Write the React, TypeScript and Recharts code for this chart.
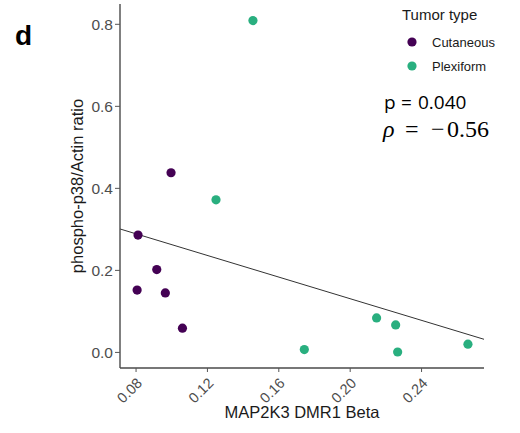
import React from "react";
import {
  ScatterChart,
  Scatter,
  XAxis,
  YAxis,
  ReferenceLine,
} from "recharts";

// ---- data ----
const cutaneousX = [0.0996, 0.0811, 0.0916, 0.0806, 0.0964, 0.106];
const cutaneousY = [0.438, 0.286, 0.202, 0.152, 0.145, 0.059];
const plexiformX = [0.1455, 0.1248, 0.1743, 0.2148, 0.2255, 0.2266, 0.266];
const plexiformY = [0.809, 0.372, 0.007, 0.084, 0.067, 0.001, 0.02];
const fitX = [0.071, 0.275];
const fitY = [0.301, 0.032];
const xTicks = [0.08, 0.12, 0.16, 0.2, 0.24];
const yTicks = [0, 0.2, 0.4, 0.6, 0.8];
const seriesNames = ["Cutaneous", "Plexiform"];
const seriesColors = ["#440154", "#29AF7F"];
const pValueText = "p = 0.040";
const rhoValue = "0.56";

const cutaneous = cutaneousX.map((x, i) => ({ x, y: cutaneousY[i] }));
const plexiform = plexiformX.map((x, i) => ({ x, y: plexiformY[i] }));

const SANS = "'Liberation Sans', Arial, sans-serif";

const dot = (color: string) => (p: any) =>
  <circle cx={p.cx} cy={p.cy} r={4.6} fill={color} />;

const XTick = (props: any) => {
  const { x, y, payload } = props;
  return (
    <g transform={`translate(${x},${y})`}>
      <text
        x={0}
        y={0}
        transform="translate(7,10) rotate(-45)"
        textAnchor="end"
        fontSize={14.5}
        fontFamily={SANS}
        fill="#4D4D4D"
      >
        {Number(payload.value).toFixed(2)}
      </text>
    </g>
  );
};

export default function App() {
  return (
    <div style={{ position: "absolute", left: 0, top: 0, width: 520, height: 433, background: "#fff" }}>
      <ScatterChart
        width={520}
        height={433}
        margin={{ top: 4, right: 36, bottom: 0, left: 0 }}
      >
        <XAxis
          type="number"
          dataKey="x"
          domain={[0.071, 0.275]}
          ticks={xTicks}
          allowDataOverflow
          height={65}
          tick={<XTick />}
          tickSize={4}
          tickMargin={2}
          stroke="#555"
          tickLine={{ stroke: "#555" }}
          axisLine={{ stroke: "#4a4a4a", strokeWidth: 1.4 }}
        />
        <YAxis
          type="number"
          dataKey="y"
          domain={[-0.038, 0.8495]}
          ticks={yTicks}
          allowDataOverflow
          width={120}
          tickSize={5}
          tickMargin={2}
          tickFormatter={(v: number) => v.toFixed(1)}
          tick={{ fontSize: 15.5, fontFamily: SANS, fill: "#4D4D4D" }}
          stroke="#555"
          axisLine={{ stroke: "#4a4a4a", strokeWidth: 1.4 }}
        />
        <Scatter
          name={seriesNames[0]}
          data={cutaneous}
          fill={seriesColors[0]}
          shape={dot(seriesColors[0])}
          isAnimationActive={false}
        />
        <Scatter
          name={seriesNames[1]}
          data={plexiform}
          fill={seriesColors[1]}
          shape={dot(seriesColors[1])}
          isAnimationActive={false}
        />
        <ReferenceLine
          segment={[
            { x: fitX[0], y: fitY[0] },
            { x: fitX[1], y: fitY[1] },
          ]}
          stroke="#333"
          strokeWidth={1}
        />
      </ScatterChart>
      <svg
        width={520}
        height={433}
        style={{ position: "absolute", left: 0, top: 0, pointerEvents: "none" }}
      >
        <text x={15} y={45} fontSize={28} fontWeight="bold" fontFamily={SANS} fill="#000">
          d
        </text>
        <text
          transform="translate(83,186) rotate(-90)"
          textAnchor="middle"
          fontSize={16.5}
          fontFamily={SANS}
          fill="#1a1a1a"
        >
          phospho-p38/Actin ratio
        </text>
        <text x={302} y={418} textAnchor="middle" fontSize={16.5} fontFamily={SANS} fill="#1a1a1a">
          MAP2K3 DMR1 Beta
        </text>
        <text x={402} y={20} fontSize={15} fontFamily={SANS} fill="#1a1a1a">
          Tumor type
        </text>
        {seriesNames.map((n, i) => (
          <g key={n}>
            <circle cx={412} cy={42 + i * 24} r={4.6} fill={seriesColors[i]} />
            <text x={432} y={47 + i * 24} fontSize={13} fontFamily={SANS} fill="#1a1a1a">
              {n}
            </text>
          </g>
        ))}
        <text y={108.5} fontSize={19} fontFamily="'Open Sans', sans-serif" fill="#000">
          <tspan x={384}>{pValueText.split(" ")[0]}</tspan>
          <tspan x={401}>{pValueText.split(" ")[1]}</tspan>
          <tspan x={418}>{pValueText.split(" ")[2]}</tspan>
        </text>
        <text y={137} fontSize={24} fontFamily="'Liberation Serif', serif" fill="#000">
          <tspan x={383} fontStyle="italic">ρ</tspan>
          <tspan x={405}>=</tspan>
          <tspan x={431}>−</tspan>
          <tspan x={447}>{rhoValue}</tspan>
        </text>
      </svg>
    </div>
  );
}
